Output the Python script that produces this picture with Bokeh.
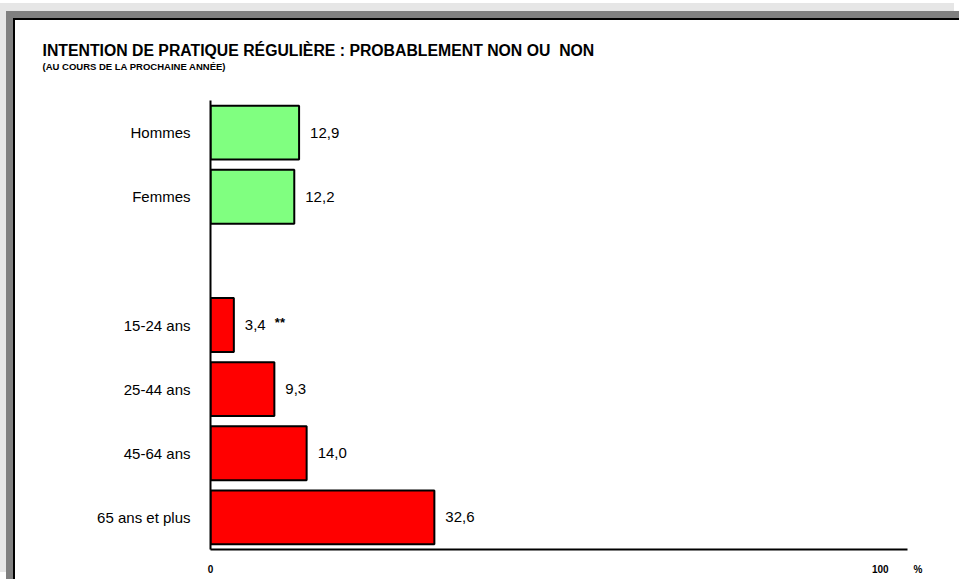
from bokeh.plotting import figure
from bokeh.models import FactorRange, Range1d, FixedTicker, Title, ColumnDataSource
from bokeh.embed import file_html
from bokeh.resources import INLINE
from bokeh.core.properties import value

# ---- data ----
title_text = "INTENTION DE PRATIQUE RÉGULIÈRE : PROBABLEMENT NON OU \u00a0NON"
subtitle_text = "(AU COURS DE LA PROCHAINE ANNÉE)"
categories = ["Hommes", "Femmes", " ", "15-24 ans", "25-44 ans", "45-64 ans", "65 ans et plus"]
bar_categories = ["Hommes", "Femmes", "15-24 ans", "25-44 ans", "45-64 ans", "65 ans et plus"]
values = [12.9, 12.2, 3.4, 9.3, 14.0, 32.6]
notes = ["", "", "**", "", "", ""]
bar_colors = ["#80ff80", "#80ff80", "#ff0000", "#ff0000", "#ff0000", "#ff0000"]
x_ticks = [0, 100]
x_tick_labels = ["0", "100\u00a0\u00a0\u00a0\u00a0\u00a0\u00a0\u00a0\u00a0\u00a0%"]

FONT = "Liberation Sans"

src = ColumnDataSource(dict(
    cat=bar_categories,
    val=values,
    lab=[f"{v:.1f}".replace(".", ",") for v in values],
    note=notes,
    color=bar_colors,
))

p = figure(
    width=944, height=559,
    y_range=FactorRange(factors=list(reversed(categories)), range_padding=0),
    x_range=Range1d(0, 101.5),
    output_backend="svg", toolbar_location=None, title=None,
    min_border_left=195, min_border_right=52, min_border_top=80, min_border_bottom=30,
)
p.margin = (20, 0, 0, 15)
p.styles = {
    "box-shadow": "0 0 0 2px #000000, -4px -4px 0 5px #808080, -10px -12px 0 5px #e6e6e6",
    "background-color": "white",
}
p.outline_line_color = None
p.background_fill_color = "white"
p.border_fill_color = "white"
p.xgrid.visible = False
p.ygrid.visible = False

p.hbar(y="cat", right="val", left=0, height=0.84, source=src,
       fill_color="color", line_color="black", line_width=2)

p.text(x="val", y="cat", text="lab", source=src, x_offset=11,
       text_baseline="middle", text_align="left",
       text_font=value(FONT), text_font_size="15px", text_color="black")
p.text(x="val", y="cat", text="note", source=src, x_offset=41, y_offset=-3,
       text_baseline="middle", text_align="left",
       text_font=value(FONT), text_font_size="13px", text_font_style="bold", text_color="black")

# axes
ya = p.yaxis[0]
ya.axis_line_color = "black"
ya.axis_line_width = 2
ya.major_tick_line_color = None
ya.minor_tick_line_color = None
ya.major_label_standoff = 14
ya.major_label_text_font = FONT
ya.major_label_text_font_size = "15px"
ya.major_label_text_color = "black"

xa = p.xaxis[0]
xa.ticker = FixedTicker(ticks=x_ticks)
xa.major_label_overrides = {t: s for t, s in zip(x_ticks, x_tick_labels)}
xa.axis_line_color = "black"
xa.axis_line_width = 2
xa.major_tick_line_color = None
xa.minor_tick_line_color = None
xa.major_label_standoff = 8
xa.major_label_text_font = FONT
xa.major_label_text_font_size = "10px"
xa.major_label_text_font_style = "bold"
xa.major_label_text_color = "black"

# spacer between subtitle and plot frame
p.add_layout(Title(text="\u00a0", standoff=26, text_font_size="1px"), "above")
p.add_layout(Title(text=subtitle_text, align="left", offset=-168, standoff=0,
                   text_font=FONT, text_font_size="9.5px", text_font_style="bold",
                   text_color="black"), "above")
p.add_layout(Title(text=title_text, align="left", offset=-168, standoff=0,
                   text_font=FONT, text_font_size="15.8px", text_font_style="bold",
                   text_color="black"), "above")

open("out.html", "w").write(file_html(p, INLINE))
